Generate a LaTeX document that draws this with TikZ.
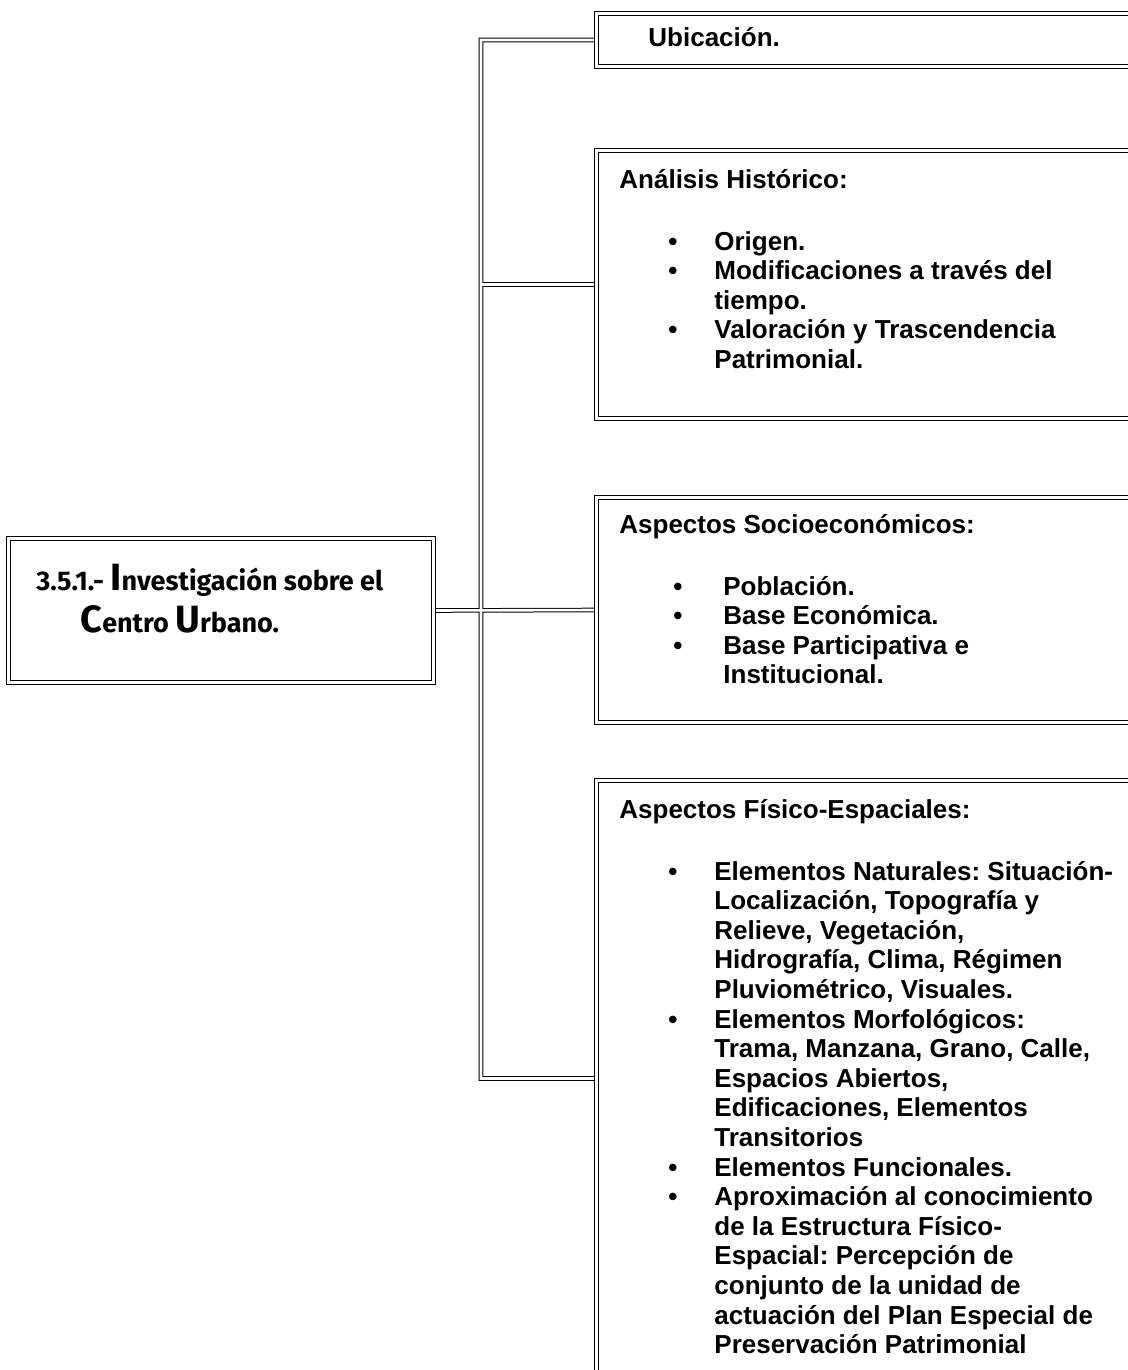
\documentclass[tikz,border=0pt]{standalone}
\usepackage{fontspec}
\setmainfont{Liberation Sans}
\newfontfamily\titlefont{Fira Sans}
\usetikzlibrary{positioning,backgrounds}

\newcommand{\bigini}[1]{{\fontsize{19}{21}\selectfont #1}}
\newcommand{\bul}{\textbullet}
\frenchspacing

\begin{document}
\begin{tikzpicture}[
    x=0.5pt, y=-0.5pt,
    box/.style={draw,double,double distance=1.2pt,line width=0.5pt,inner sep=0pt,anchor=north west},
    link/.style={double,double distance=1.3pt,line width=0.5pt},
    head/.style={font={\fontsize{13}{14.8}\selectfont\bfseries},anchor=base west,inner sep=0pt},
    title/.style={font={\titlefont\bfseries\fontsize{13.5}{21}\selectfont},anchor=base west,inner sep=0pt,align=left},
]
    \useasboundingbox (0,0) rectangle (1128,1370);
    \clip (0,0) rectangle (1128,1370);

    % Boxes
    \node[box,minimum width=212.5pt,minimum height=72pt]  (centro)    at (8,538)   {};
    \node[box,minimum width=272pt,minimum height=26.5pt]  (ubicacion) at (596,13)  {};
    \node[box,minimum width=272pt,minimum height=134pt]   (historico) at (596,150) {};
    \node[box,minimum width=272pt,minimum height=112.5pt] (socioeco)  at (596,497) {};
    \node[box,minimum width=272pt,minimum height=298pt]   (fisico)    at (596,780) {};

    % Connectors
    \coordinate (trunk) at (481,0);
    \begin{scope}[on background layer]
        \draw[link] (ubicacion.west) -- (ubicacion.west -| trunk) -- (fisico.west -| trunk) -- (fisico.west)
            (historico.west -| trunk) -- (historico.west)
            (centro.east) -- (socioeco.west);
    \end{scope}

    % Title (base = last line)
    \node[title] (centrotxt) at (36,632) {3.5.1.- \bigini{I}nvestigación sobre el\\
        \hspace{22pt}\bigini{C}entro \bigini{U}rbano.};

    % Headings
    \node[head] (ubicaciontxt) at ([shift={(52,34)}]ubicacion.north west) {Ubicación.};
    \node[head] (historicotxt) at ([shift={(23,38)}]historico.north west) {Análisis Histórico:};
    \node[head] (socioecotxt)  at ([shift={(23,36)}]socioeco.north west)  {Aspectos Socioeconómicos:};
    \node[head] (fisicotxt)    at ([shift={(23,38)}]fisico.north west)    {Aspectos Físico-Espaciales:};

    % Lists
    \node[head] (historicolst) at ([shift={(49,62)}]historicotxt.base west) {%
        \begin{tabular}[t]{@{}p{23pt}@{}l@{}}
            \bul & Origen.\\
            \bul & Modificaciones a través del\\
                 & tiempo.\\
            \bul & Valoración y Trascendencia\\
                 & Patrimonial.
        \end{tabular}};
    \node[head] (socioecolst) at ([shift={(54,62)}]socioecotxt.base west) {%
        \begin{tabular}[t]{@{}p{25pt}@{}l@{}}
            \bul & Población.\\
            \bul & Base Económica.\\
            \bul & Base Participativa e\\
                 & Institucional.
        \end{tabular}};
    \node[head] (fisicolst) at ([shift={(49,62)}]fisicotxt.base west) {%
        \begin{tabular}[t]{@{}p{23pt}@{}l@{}}
            \bul & Elementos Naturales: Situación-\\
                 & Localización, Topografía y\\
                 & Relieve, Vegetación,\\
                 & Hidrografía, Clima, Régimen\\
                 & Pluviométrico, Visuales.\\
            \bul & Elementos Morfológicos:\\
                 & Trama, Manzana, Grano, Calle,\\
                 & Espacios Abiertos,\\
                 & Edificaciones, Elementos\\
                 & Transitorios\\
            \bul & Elementos Funcionales.\\
            \bul & Aproximación al conocimiento\\
                 & de la Estructura Físico-\\
                 & Espacial: Percepción de\\
                 & conjunto de la unidad de\\
                 & actuación del Plan Especial de\\
                 & Preservación Patrimonial
        \end{tabular}};

\end{tikzpicture}
\end{document}
